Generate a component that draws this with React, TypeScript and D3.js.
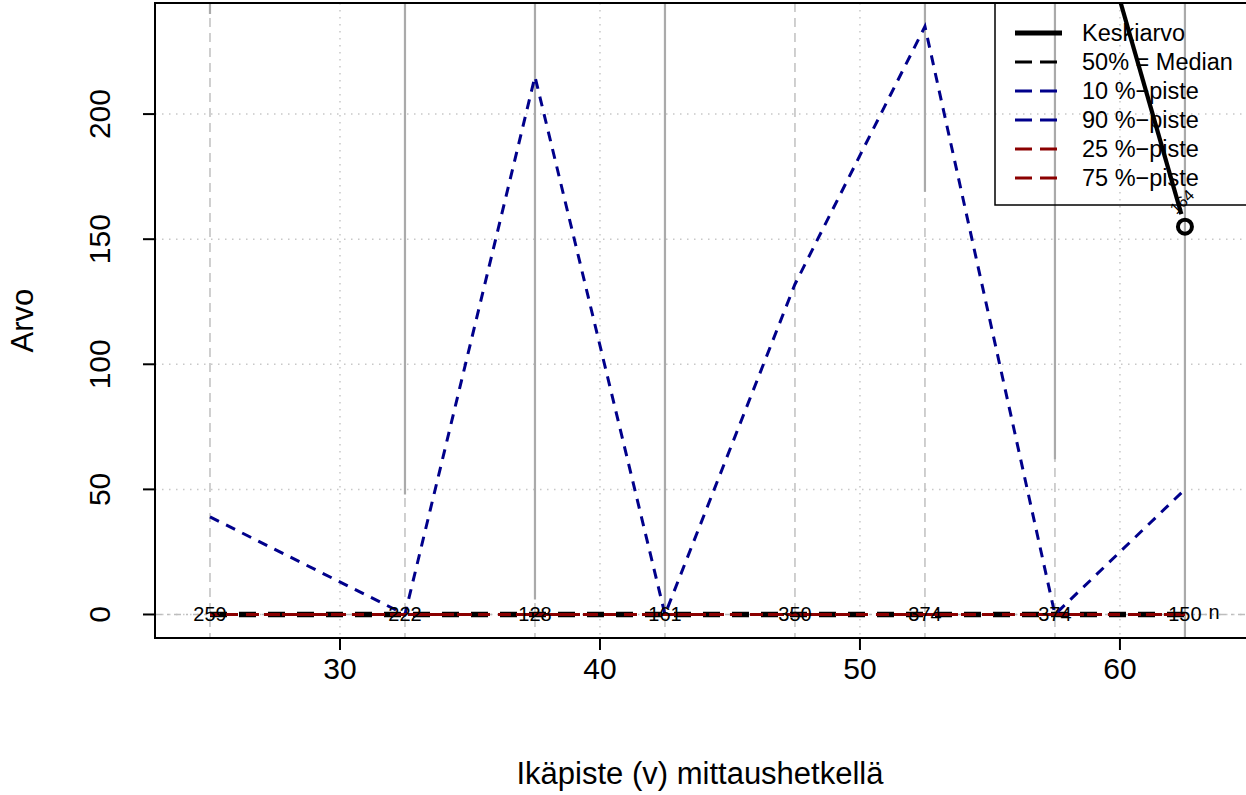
import React from 'react';
import * as d3 from 'd3';

// age points (x) and group sizes
const ages = [25, 32.5, 37.5, 42.5, 47.5, 52.5, 57.5, 62.5];
const counts = ['259', '222', '128', '161', '350', '374', '374', '150'];

// percentile series
const p10 = [0, 0, 0, 0, 0, 0, 0, 0];
const p25 = [0, 0, 0, 0, 0, 0, 0, 0];
const p50 = [0, 0, 0, 0, 0, 0, 0, 0];
const p75 = [0, 0, 0, 0, 0, 0, 0, 0];
const p90 = [39, 0, 215, 0, 132, 235, 0, 50];

// mean with its interval (most of it runs above the plot)
const means = [560, 395, 430, 370, 720, 480, 336, 155];
const lower = [240, 48, 6, 1, 290, 169, 62, -30];
const upper = means.map((m, i) => 2 * m - lower[i]);
const lastMeanLabel = '164';

const xTicks = [30, 40, 50, 60];
const yTicks = [0, 50, 100, 150, 200];

const legendItems = [
  { label: 'Keskiarvo', color: '#000000', dash: '', width: 5 },
  { label: '50% = Median', color: '#000000', dash: '17 8', width: 3 },
  { label: '10 %\u2212piste', color: '#00008B', dash: '17 8', width: 3 },
  { label: '90 %\u2212piste', color: '#00008B', dash: '17 8', width: 3 },
  { label: '25 %\u2212piste', color: '#8B0000', dash: '17 8', width: 3 },
  { label: '75 %\u2212piste', color: '#8B0000', dash: '17 8', width: 3 },
];

const W = 1246;
const H = 795;
const left = 155;
const right = 1245;
const top = 3;
const bottom = 638;
const font = '"Liberation Sans", Arial, Helvetica, sans-serif';

export default function App() {
  const x = d3.scaleLinear().domain([22.885, 64.81]).range([left, right]);
  const y = d3.scaleLinear().domain([-9.4, 244.4]).range([bottom, top]);

  const line = d3
    .line<number>()
    .x((_, i) => x(ages[i]))
    .y((d) => y(d));

  // type = "b": segments with a gap around each point
  const gap = 13;
  const meanSegments = means.slice(1).map((m, k) => {
    const x0 = x(ages[k]);
    const y0 = y(means[k]);
    const x1 = x(ages[k + 1]);
    const y1 = y(m);
    const len = Math.hypot(x1 - x0, y1 - y0);
    const ux = (x1 - x0) / len;
    const uy = (y1 - y0) / len;
    return {
      x1: x0 + ux * gap,
      y1: y0 + uy * gap,
      x2: x1 - ux * gap,
      y2: y1 - uy * gap,
    };
  });

  const lastI = ages.length - 1;
  const lx = x(ages[lastI]) - 2;
  const ly0 = y(means[lastI]) - 24;

  return (
    <svg
      width={W}
      height={H}
      style={{ position: 'fixed', left: 0, top: 0, background: '#fff' }}
      fontFamily={font}
    >
      <defs>
        <clipPath id="plot">
          <rect x={left} y={top} width={right - left} height={bottom - top} />
        </clipPath>
      </defs>
      <rect width={W} height={H} fill="#fff" />

      <g clipPath="url(#plot)">
        {/* dotted grid */}
        {yTicks.map((t) => (
          <line key={'gy' + t} x1={left} x2={right} y1={y(t)} y2={y(t)}
            stroke="#c8c8c8" strokeWidth={1.5} strokeDasharray="1.5 5.5" />
        ))}
        {xTicks.map((t) => (
          <line key={'gx' + t} x1={x(t)} x2={x(t)} y1={top} y2={bottom}
            stroke="#c8c8c8" strokeWidth={1.5} strokeDasharray="1.5 5.5" />
        ))}
        {/* reference line at zero */}
        <line x1={left} x2={right} y1={y(0)} y2={y(0)}
          stroke="#bdbdbd" strokeWidth={1.5} strokeDasharray="7 5 2 5" />
        {/* dashed vertical at every age point */}
        {ages.map((a) => (
          <line key={'va' + a} x1={x(a)} x2={x(a)} y1={top} y2={bottom}
            stroke="#c0c0c0" strokeWidth={1.5} strokeDasharray="9 6" />
        ))}
        {/* intervals around the mean */}
        {ages.map((a, i) => (
          <line key={'ci' + a} x1={x(a)} x2={x(a)} y1={y(lower[i])} y2={y(upper[i])}
            stroke="#aaaaaa" strokeWidth={2.2} />
        ))}

        {/* mean */}
        {meanSegments.map((s, k) => (
          <line key={'m' + k} {...s} stroke="#000" strokeWidth={4.2} />
        ))}
        {means.map((m, i) => (
          <circle key={'mp' + i} cx={x(ages[i])} cy={y(m)} r={7}
            fill="none" stroke="#000" strokeWidth={4} />
        ))}
        <text x={lx} y={ly0}
          fontSize={16} textAnchor="middle" dominantBaseline="middle"
          transform={`rotate(-45 ${lx} ${ly0})`}>
          {lastMeanLabel}
        </text>

        {/* percentiles */}
        <path d={line(p50) || ''} fill="none" stroke="#000" strokeWidth={5.5} strokeDasharray="17 12" />
        <path d={line(p10) || ''} fill="none" stroke="#00008B" strokeWidth={3} strokeDasharray="10 8" />
        <path d={line(p90) || ''} fill="none" stroke="#00008B" strokeWidth={3} strokeDasharray="10 8" />
        <path d={line(p25) || ''} fill="none" stroke="#8B0000" strokeWidth={3} strokeDasharray="10 8" />
        <path d={line(p75) || ''} fill="none" stroke="#8B0000" strokeWidth={3} strokeDasharray="12 9" strokeDashoffset={5} />

        {/* group sizes */}
        {ages.map((a, i) => (
          <text key={'n' + a} x={x(a)} y={y(0)} fontSize={20} textAnchor="middle"
            dominantBaseline="central">
            {counts[i]}
          </text>
        ))}
        <text x={x(ages[lastI]) + 29} y={y(0) - 2} fontSize={20} textAnchor="middle"
          dominantBaseline="central">
          n
        </text>
      </g>

      {/* legend */}
      <g>
        <rect x={995} y={top} width={262} height={202} fill="none" stroke="#000" strokeWidth={1.5} />
        {legendItems.map((it, i) => {
          const ly = 33 + i * 29;
          return (
            <g key={it.label}>
              <line x1={1015} x2={1062} y1={ly} y2={ly} stroke={it.color}
                strokeWidth={it.width} strokeDasharray={it.dash || undefined} />
              <text x={1082} y={ly} fontSize={23.5} dominantBaseline="central">
                {it.label}
              </text>
            </g>
          );
        })}
      </g>

      {/* box */}
      <rect x={left} y={top} width={right - left + 10} height={bottom - top}
        fill="none" stroke="#000" strokeWidth={2} />

      {/* x axis */}
      {xTicks.map((t) => (
        <g key={'xt' + t}>
          <line x1={x(t)} x2={x(t)} y1={bottom} y2={bottom + 12} stroke="#000" strokeWidth={2} />
          <text x={x(t)} y={668} fontSize={30} textAnchor="middle" dominantBaseline="central">
            {t}
          </text>
        </g>
      ))}
      {/* y axis */}
      {yTicks.map((t) => (
        <g key={'yt' + t}>
          <line x1={left - 12} x2={left} y1={y(t)} y2={y(t)} stroke="#000" strokeWidth={2} />
          <text x={100} y={y(t)} fontSize={30} textAnchor="middle" dominantBaseline="central"
            transform={`rotate(-90 100 ${y(t)})`}>
            {t}
          </text>
        </g>
      ))}

      <text x={(left + right) / 2} y={773} fontSize={31} textAnchor="middle" dominantBaseline="central">
        Ikäpiste (v) mittaushetkellä
      </text>
      <text x={22} y={(top + bottom) / 2} fontSize={31} textAnchor="middle" dominantBaseline="central"
        transform={`rotate(-90 22 ${(top + bottom) / 2})`}>
        Arvo
      </text>
    </svg>
  );
}
